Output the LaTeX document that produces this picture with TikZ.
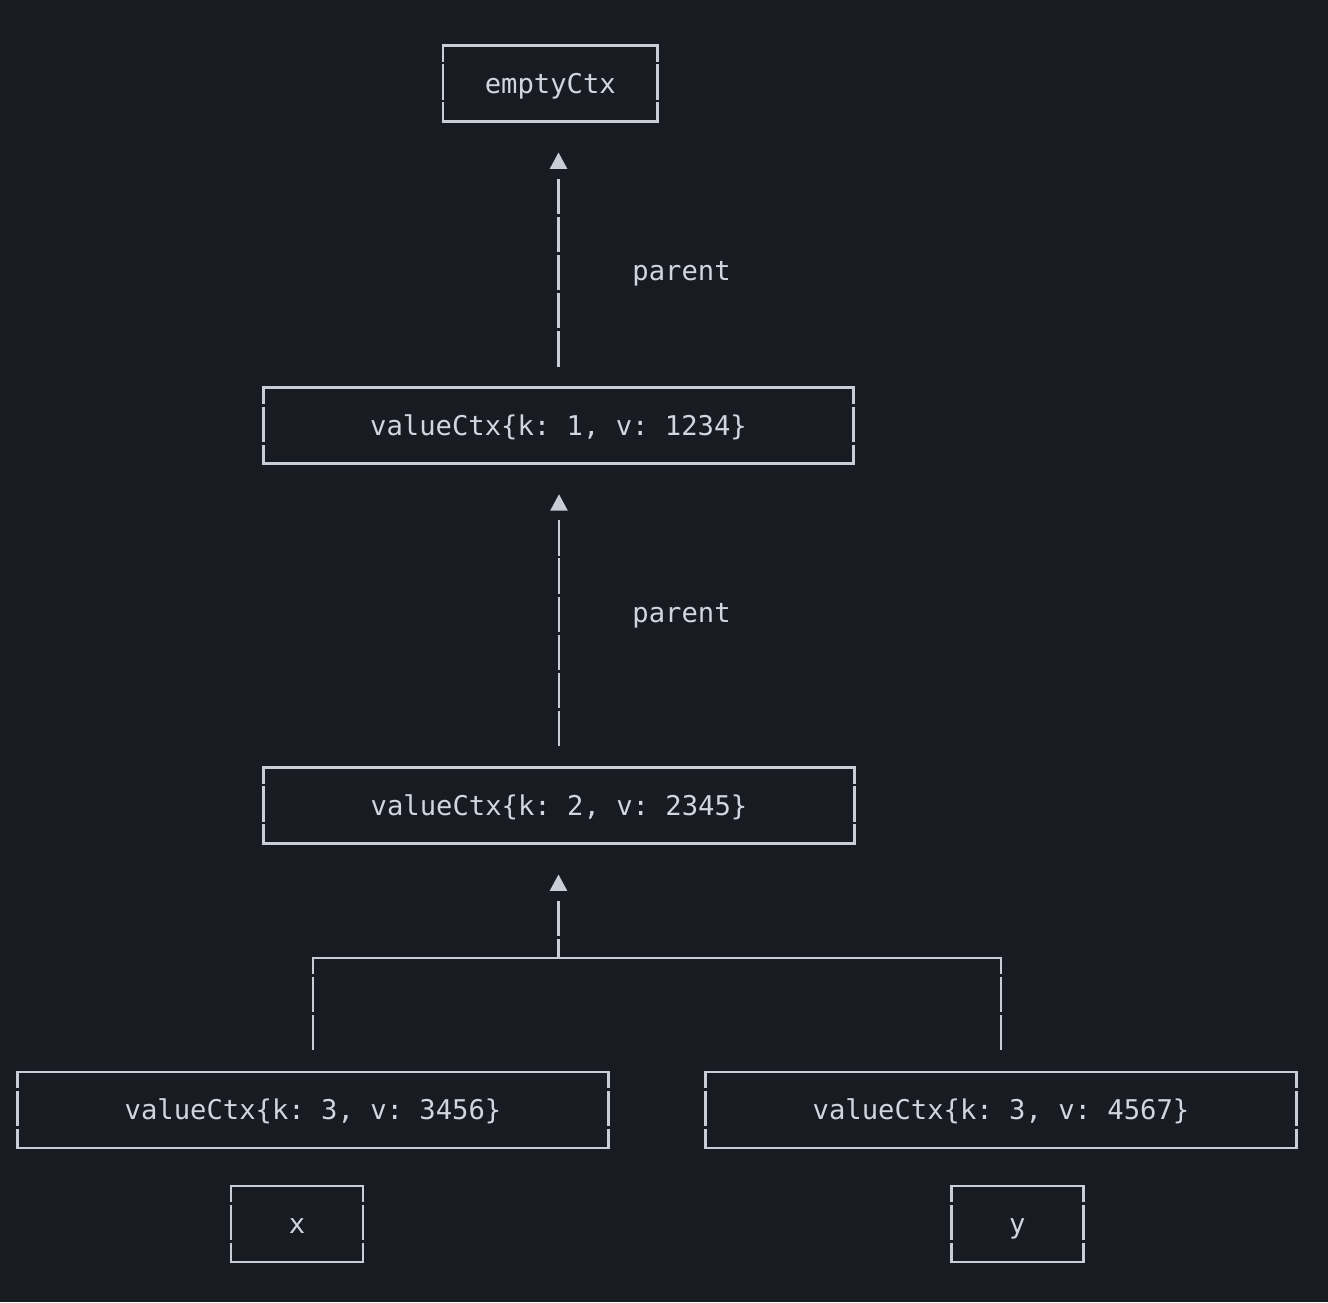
\documentclass[tikz,border=0pt]{standalone}
\usepackage{fontspec}
\setmonofont{DejaVu Sans Mono}
\usetikzlibrary{arrows.meta}

\definecolor{bg}{RGB}{24,27,34}
\definecolor{ink}{RGB}{200,206,214}
\definecolor{txt}{RGB}{208,214,222}

\tikzset{
  cell/.style={inner sep=0pt, text=txt,
    font=\ttfamily\fontsize{27.2}{32}\selectfont,
    text height=20pt, text depth=1pt},
  box/.style={cell, minimum height=75.5pt},
  wire/.style={draw=ink, line width=2.7pt},
  rowside/.style={wire, dash pattern=on 16pt off 2.8pt on 35.2pt off 2.8pt on 40pt},
  link/.style={wire, -{Triangle[length=16.5pt,width=17pt]}},
}

% box outline: solid top and bottom, vertical sides broken at each text row
\newcommand\asciiframe[1]{%
  \draw[wire, line cap=rect] (#1.north west) -- (#1.north east);
  \draw[wire, line cap=rect] (#1.south west) -- (#1.south east);
  \draw[rowside] (#1.north west) -- (#1.south west);
  \draw[rowside] (#1.north east) -- (#1.south east);}

\begin{document}
\begin{tikzpicture}[x=1pt, y=-1pt]
  \fill[bg] (0,0) rectangle (1328,1302);
  \useasboundingbox (0,0) rectangle (1328,1302);

  % contexts
  \node[box, minimum width=214pt]   (e)  at (550.3,83.5)  {emptyCtx};
  \node[box, minimum width=590pt]   (v1) at (558.5,425.75) {valueCtx\{k: 1, v: 1234\}};
  \node[box, minimum width=590pt]   (v2) at (559,805.5)   {valueCtx\{k: 2, v: 2345\}};
  \node[box, minimum width=590pt]   (v3) at (313,1110)    {valueCtx\{k: 3, v: 3456\}};
  \node[box, minimum width=590pt]   (v4) at (1001,1110)   {valueCtx\{k: 3, v: 4567\}};
  \node[box, minimum width=131.5pt] (x)  at (297,1224)    {x};
  \node[box, minimum width=131.5pt] (y)  at (1017.3,1224) {y};

  \asciiframe{e}
  \asciiframe{v1}
  \asciiframe{v2}
  \asciiframe{v3}
  \asciiframe{v4}
  \asciiframe{x}
  \asciiframe{y}

  % parent links
  \draw[link, shorten <=21.3pt, shorten >=31pt,
        dash pattern=on 35.4pt off 2.7pt on 35.4pt off 2.7pt on 35.4pt off 2.7pt
                     on 35.4pt off 2.7pt on 35.4pt off 30pt]
    (v1.north) -- (v1.north |- e.south);
  \node[cell] (p1) at (681.5,271) {parent};

  \draw[link, shorten <=21.3pt, shorten >=30.5pt,
        dash pattern=on 35.4pt off 2.7pt on 35.4pt off 2.7pt on 35.4pt off 2.7pt
                     on 35.4pt off 2.7pt on 35.4pt off 2.7pt on 35.4pt off 30pt]
    (v2.north) -- (v2.north |- v1.south);
  \node[cell] (p2) at (681.5,613) {parent};

  % shared parent of the two leaves
  \coordinate (j)  at (558.5,958);
  \coordinate (jl) at (313,958);
  \coordinate (jr) at (1001,958);
  \draw[wire, line cap=rect] (jl) -- (jr);
  \draw[rowside, shorten >=22.5pt] (jl) -- (v3.north);
  \draw[rowside, shorten >=22.5pt] (jr) -- (v4.north);
  \draw[link, shorten >=31pt, dash pattern=on 19pt off 3pt on 35pt off 30pt]
    (j) -- (j |- v2.south);
\end{tikzpicture}
\end{document}
